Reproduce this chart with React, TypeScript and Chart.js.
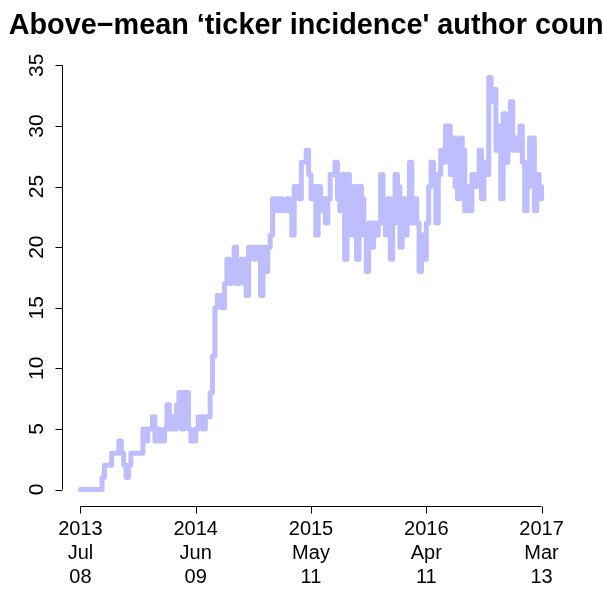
import { useEffect, useRef } from "react";
import { Chart, registerables } from "chart.js";

Chart.register(...registerables);

// Weekly author counts, starting 2013-07-08
const counts: number[] = [
  0, 0, 0, 0, 0, 0, 0, 0, 0, 1,
  2, 2, 2, 3, 3, 3, 4, 3, 2, 1,
  2, 3, 3, 3, 3, 3, 5, 4, 5, 5,
  6, 4, 5, 4, 4, 5, 7, 5, 6, 5,
  7, 8, 5, 8, 8, 5, 4, 4, 5, 6,
  6, 5, 6, 6, 8, 11, 15, 16, 16, 15,
  17, 19, 17, 18, 20, 17, 18, 19, 17, 16,
  20, 20, 19, 20, 20, 16, 20, 18, 20, 21,
  24, 24, 23, 24, 23, 23, 24, 23, 21, 25,
  25, 24, 27, 27, 28, 26, 24, 25, 21, 25,
  23, 24, 22, 24, 26, 26, 27, 24, 23, 26,
  19, 26, 25, 21, 25, 19, 25, 24, 21, 18,
  22, 20, 22, 21, 22, 26, 23, 21, 24, 19,
  22, 26, 25, 20, 24, 21, 24, 27, 22, 24,
  22, 18, 21, 19, 22, 25, 27, 26, 22, 26,
  28, 27, 30, 30, 26, 29, 25, 24, 29, 28,
  23, 25, 23, 26, 25, 26, 28, 24, 27, 26,
  34, 32, 33, 28, 30, 24, 31, 27, 29, 32,
  28, 29, 28, 30, 27, 23, 25, 29, 29, 23,
  26, 24, 25,
];

const tickWeeks = [0, 48, 96, 144, 192];
const tickYears = ["2013", "2014", "2015", "2016", "2017"];
const tickMonths = ["Jul", "Jun", "May", "Apr", "Mar"];
const tickDays = ["08", "09", "11", "11", "13"];
const yTicks = [0, 5, 10, 15, 20, 25, 30, 35];
const titleText = "Above\u2212mean \u2018ticker incidence' author count";

const FONT = '"Liberation Sans", Arial, Helvetica, sans-serif';

export default function App() {
  const ref = useRef<HTMLCanvasElement | null>(null);

  useEffect(() => {
    document.body.style.margin = "0";
    const canvas = ref.current!;
    const axesPlugin = {
      id: "rAxes",
      afterDraw(chart: any) {
        const ctx = chart.ctx as CanvasRenderingContext2D;
        const xs = chart.scales.x;
        const ys = chart.scales.y;
        const area = chart.chartArea;
        ctx.save();
        ctx.strokeStyle = "#000";
        ctx.fillStyle = "#000";
        ctx.lineWidth = 1;
        // x axis
        const yb = Math.round(area.bottom) + 0.5;
        const x0 = xs.getPixelForValue(tickWeeks[0]);
        const x1 = xs.getPixelForValue(tickWeeks[tickWeeks.length - 1]);
        ctx.beginPath();
        ctx.moveTo(x0, yb);
        ctx.lineTo(x1, yb);
        tickWeeks.forEach((w) => {
          const px = Math.round(xs.getPixelForValue(w)) + 0.5;
          ctx.moveTo(px, yb);
          ctx.lineTo(px, yb + 7);
        });
        ctx.stroke();
        ctx.font = `20px ${FONT}`;
        ctx.textAlign = "center";
        ctx.textBaseline = "middle";
        tickWeeks.forEach((w, i) => {
          const px = xs.getPixelForValue(w);
          ctx.fillText(tickYears[i], px, yb + 23);
          ctx.fillText(tickMonths[i], px, yb + 47);
          ctx.fillText(tickDays[i], px, yb + 71);
        });
        // y axis
        const xl = Math.round(area.left) + 0.5;
        const ya = ys.getPixelForValue(yTicks[0]);
        const yz = ys.getPixelForValue(yTicks[yTicks.length - 1]);
        ctx.beginPath();
        ctx.moveTo(xl, ya);
        ctx.lineTo(xl, yz);
        yTicks.forEach((v) => {
          const py = Math.round(ys.getPixelForValue(v)) + 0.5;
          ctx.moveTo(xl, py);
          ctx.lineTo(xl - 7, py);
        });
        ctx.stroke();
        ctx.font = `21px ${FONT}`;
        yTicks.forEach((v) => {
          const py = ys.getPixelForValue(v);
          ctx.save();
          ctx.translate(xl - 25, py);
          ctx.rotate(-Math.PI / 2);
          ctx.textAlign = "center";
          ctx.textBaseline = "middle";
          ctx.fillText(String(v), 0, 0);
          ctx.restore();
        });
        // title
        ctx.font = `bold 28.8px ${FONT}`;
        ctx.textAlign = "center";
        ctx.textBaseline = "alphabetic";
        ctx.fillText(titleText, (area.left + area.right) / 2, 34);
        ctx.restore();
      },
    };

    const chart = new Chart(canvas, {
      type: "line",
      data: {
        datasets: [
          {
            data: counts.map((c, i) => ({ x: i, y: c })),
            borderColor: "rgb(190,190,255)",
            borderWidth: 5,
            stepped: true,
            pointRadius: 0,
            borderCapStyle: "round",
            borderJoinStyle: "round",
            fill: false,
          },
        ],
      },
      options: {
        responsive: false,
        animation: false,
        layout: { padding: { left: 62, right: 43, top: 61, bottom: 97 } },
        scales: {
          x: { type: "linear", min: -7.68, max: 199.68, display: false },
          y: { type: "linear", min: -1.36, max: 35.36, display: false },
        },
        plugins: { legend: { display: false }, tooltip: { enabled: false }, title: { display: false } },
      },
      plugins: [axesPlugin],
    });
    return () => chart.destroy();
  }, []);

  return <canvas ref={ref} width={603} height={603} style={{ display: "block" }} />;
}
